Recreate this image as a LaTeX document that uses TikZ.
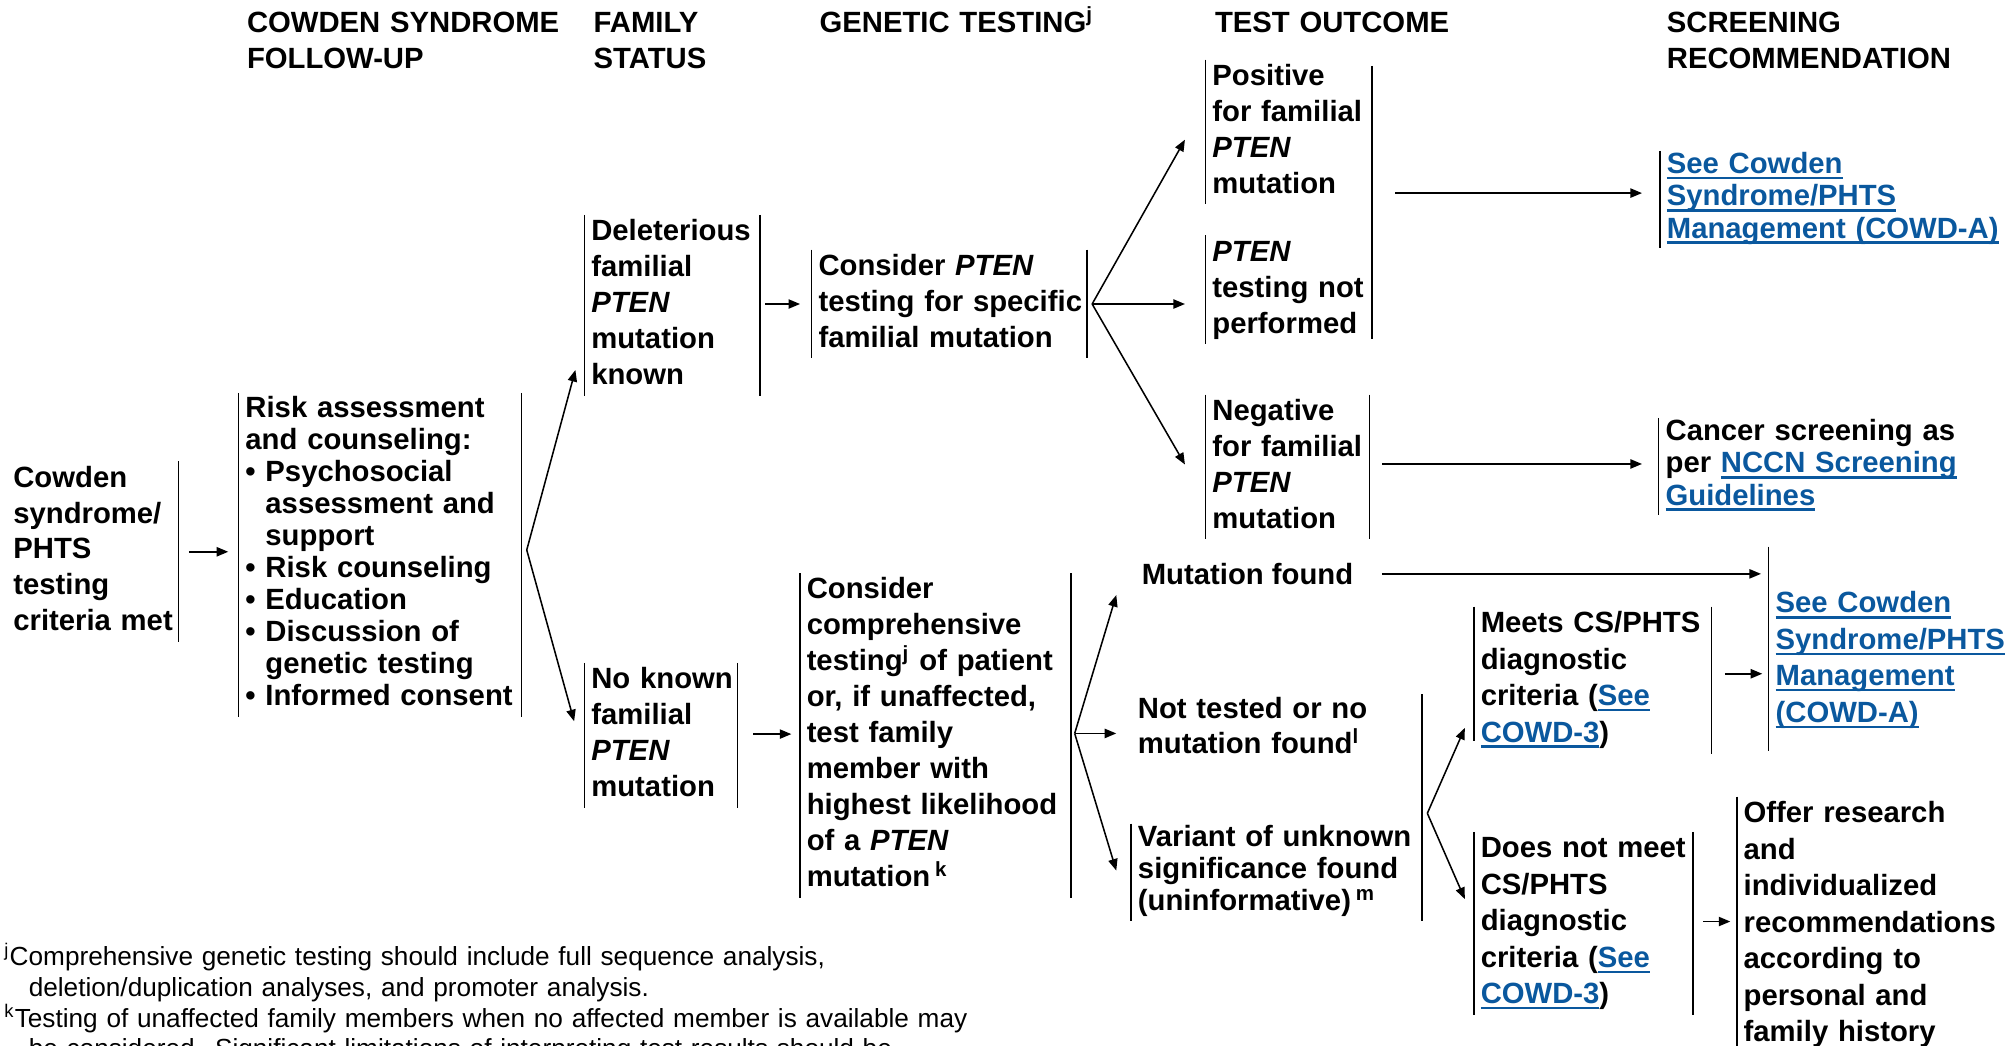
\documentclass[tikz,border=0pt]{standalone}
\usepackage{fontspec}
\setmainfont{Liberation Sans}
\usetikzlibrary{arrows.meta, calc}
\definecolor{NCCNblue}{RGB}{10,88,158}
\newcommand{\Bfa}{\fontsize{11.4}{14}\selectfont\bfseries}
\newcommand{\Bfb}{\fontsize{11.4}{12.5}\selectfont\bfseries}
\newcommand{\Bfc}{\fontsize{11.4}{14.2}\selectfont\bfseries}
\newcommand{\Bfd}{\fontsize{11.4}{13}\selectfont\bfseries}
\newcommand{\Fnt}{\fontsize{10.2}{12}\selectfont}
\newcommand{\Lines}[1]{\begin{tabular}{@{}l@{}}#1\end{tabular}}
\newsavebox{\LnkBox}
\newcommand{\Lnk}[1]{\sbox{\LnkBox}{\color{NCCNblue}#1}{\color{NCCNblue}\rlap{\rule[-2.2pt]{\wd\LnkBox}{0.9pt}}\usebox{\LnkBox}}}
\newcommand{\Ind}{\hphantom{\textbullet\ }}
\tikzset{
  box/.style={anchor=north west, inner xsep=2.5pt, inner ysep=0pt, align=left, font=\Bfa},
  hdr/.style={anchor=base west, inner sep=0pt, align=left, font=\Bfa}
}

\begin{document}
\begin{tikzpicture}[x=0.5pt, y=-0.5pt,
  bar/.style={line width=0.6pt},
  arr/.style={line width=0.6pt, -{Triangle[length=4.5pt,width=3.6pt]}}]
\useasboundingbox (0,0) rectangle (1568,814);
\clip (0,0) rectangle (1568,814);
% column heads
\node[hdr, text width=125pt] (hfol) at (192,25) {COWDEN SYNDROME\\FOLLOW-UP};
\node[hdr, text width=60pt] (hfam) at (462,25) {FAMILY\\STATUS};
\node[hdr, text width=140pt] (hgen) at (638,25) {GENETIC TESTING\textsuperscript{j}};
\node[hdr, text width=120pt] (hout) at (946,25) {TEST OUTCOME};
\node[hdr, text width=125pt] (hscr) at (1298,25) {SCREENING\\RECOMMENDATION};

\node[box, text width=61.65pt] (cow) at (5,359.4) {\Lines{Cowden\\syndrome/\\PHTS\\testing\\criteria met}};
\node[box, text width=104.85pt, minimum height=126pt, font=\Bfb] (risk) at (185.8,306) {\Lines{Risk assessment\\and counseling:\\\textbullet\ Psychosocial\\\Ind assessment and\\\Ind support\\\textbullet\ Risk counseling\\\textbullet\ Education\\\textbullet\ Discussion of\\\Ind genetic testing\\\textbullet\ Informed consent}};
\node[box, text width=63pt] (del) at (455.2,167.4) {\Lines{Deleterious\\familial\\\textit{PTEN}\\mutation\\known}};
\node[box, text width=101.85pt] (cpten) at (632.2,194.4) {\Lines{Consider \textit{PTEN}\\testing for specific\\familial mutation}};
\node[box, text width=59.5pt] (pos) at (939,46.4) {\Lines{Positive\\for familial\\\textit{PTEN}\\mutation}};
\node[box, text width=59.5pt] (notp) at (939,183.4) {\Lines{\textit{PTEN}\\testing not\\performed}};
\node[box, text width=58.5pt] (neg) at (939,307.4) {\Lines{Negative\\for familial\\\textit{PTEN}\\mutation}};
\node[box, text width=130pt, font=\Bfb] (seeT) at (1293,117.5) {\Lines{\Lnk{See Cowden}\\\Lnk{Syndrome/PHTS}\\\Lnk{Management (COWD-A)}}};
\node[box, text width=128pt, font=\Bfb] (cancer) at (1292,325.5) {\Lines{Cancer screening as\\per \Lnk{NCCN Screening}\\\Lnk{Guidelines}}};
\node[box, text width=54.3pt] (noknown) at (455.2,516.4) {\Lines{No known\\familial\\\textit{PTEN}\\mutation}};
\node[box, text width=100.15pt] (comp) at (623,446.4) {\Lines{Consider\\comprehensive\\testing\textsuperscript{j} of patient\\or, if unaffected,\\test family\\member with\\highest likelihood\\of a \textit{PTEN}\\mutation\,\textsuperscript{k}}};
\node[anchor=base west, inner sep=0pt, font=\Bfa] (mutf) at (889,455) {Mutation found};
\node[box, text width=108pt, font=\Bfd] (nott) at (881,540.8) {\Lines{Not tested or no\\mutation found\textsuperscript{l}}};
\node[box, text width=108pt, font=\Bfb] (var) at (881,641.5) {\Lines{Variant of unknown\\significance found\\(uninformative)\,\textsuperscript{m}}};
\node[box, text width=87.1pt, font=\Bfc] (meets) at (1148,472.6) {\Lines{Meets CS/PHTS\\diagnostic\\criteria (\Lnk{See}\\\Lnk{COWD-3})}};
\node[box, text width=80pt, font=\Bfc] (seeB) at (1377.7,457.1) {\Lines{\Lnk{See Cowden}\\\Lnk{Syndrome/PHTS}\\\Lnk{Management}\\\Lnk{(COWD-A)}}};
\node[box, text width=79.95pt, font=\Bfc] (notm) at (1148,647.9) {\Lines{Does not meet\\CS/PHTS\\diagnostic\\criteria (\Lnk{See}\\\Lnk{COWD-3})}};
\node[box, text width=100pt, font=\Bfc] (offer) at (1352.8,620.6) {\Lines{Offer research\\and\\individualized\\recommendations\\according to\\personal and\\family history}};

\node[anchor=base west, inner sep=0pt, text width=390pt, align=left, font=\Fnt] (fn) at (3,752) {\textsuperscript{j}Comprehensive genetic testing should include full sequence analysis,\\\hspace*{9.5pt}deletion/duplication analyses, and promoter analysis.\\\textsuperscript{k}Testing of unaffected family members when no affected member is available may\\\hspace*{9.5pt}be considered. Significant limitations of interpreting test results should be};

% bars
\foreach \N in {risk,del,cpten,pos,notp,neg,seeT,cancer,noknown,comp,var,notm}
  \draw[bar] (\N.north west) -- (\N.south west);
\foreach \N in {cow,risk,del,cpten,neg,noknown,comp,meets,notm}
  \draw[bar] (\N.north east) -- (\N.south east);
\draw[bar] ($(pos.north east)+(0,5)$) -- ($(notp.south east)+(0,-4)$);
\draw[bar] (nott.north east) -- (var.south east);
\draw[bar] (meets.north west) -- ($(meets.south west)+(0,-10)$);
\draw[bar] ($(seeB.north west)+(0,-31.3)$) -- ($(seeB.south west)+(0,13.5)$);
\draw[bar] (offer.north west) -- ($(offer.south west)+(0,-4.6)$);

% arrows
\draw[arr] ($(cow.east)+(8,0)$) -- ($(cow.east -| risk.west)+(-8,0)$);
\coordinate (fk1) at ($(risk.east)+(4,-4)$);
\draw[arr] (fk1) -- ($(del.south west)+(-7,-20)$);
\draw[arr] (fk1) -- ($(noknown.west)+(-8,-11)$);
\draw[arr] ($(del.east |- cpten.west)+(4,0)$) -- ($(cpten.west)+(-9,0)$);
\coordinate (fk2) at ($(cpten.east)+(4,0)$);
\draw[arr] (fk2) -- ($(pos.west)+(-16,6)$);
\draw[arr] (fk2) -- ($(fk2 -| notp.west)+(-16,0)$);
\draw[arr] (fk2) -- ($(neg.west)+(-16,-2)$);
\draw[arr] ($(pos.south east |- seeT.west)+(18,-5)$) -- ($(seeT.west)+(-14,-5)$);
\draw[arr] ($(neg.east |- cancer.west)+(10,-2)$) -- ($(cancer.west)+(-13,-2)$);
\draw[arr] ($(noknown.east)+(12,-1)$) -- ($(noknown.east -| comp.west)+(-6.6,-1)$);
\coordinate (fk3) at ($(comp.east)+(3,-1.5)$);
\draw[arr] (fk3) -- ($(mutf.base west)+(-19.5,8.5)$);
\draw[arr] (fk3) -- ($(fk3 -| nott.west)+(-11.5,0)$);
\draw[arr] (fk3) -- ($(var.west)+(-11.5,-1.3)$);
\draw[arr] ($(mutf.base east)+(22,-8)$) -- ($(seeB.west |- mutf.base east)+(-6,-8)$);
\coordinate (fk4) at ($(var.north east)+(4,-8)$);
\draw[arr] (fk4) -- ($(meets.south west)+(-7,-20)$);
\draw[arr] (fk4) -- ($(notm.west)+(-7,-19)$);
\draw[arr] ($(meets.east)+(10.6,-5)$) -- ($(seeB.west |- meets.east)+(-5,-5)$);
\draw[arr] ($(notm.east)+(8,-1.5)$) -- ($(offer.west |- notm.east)+(-5,-1.5)$);
\end{tikzpicture}
\end{document}
